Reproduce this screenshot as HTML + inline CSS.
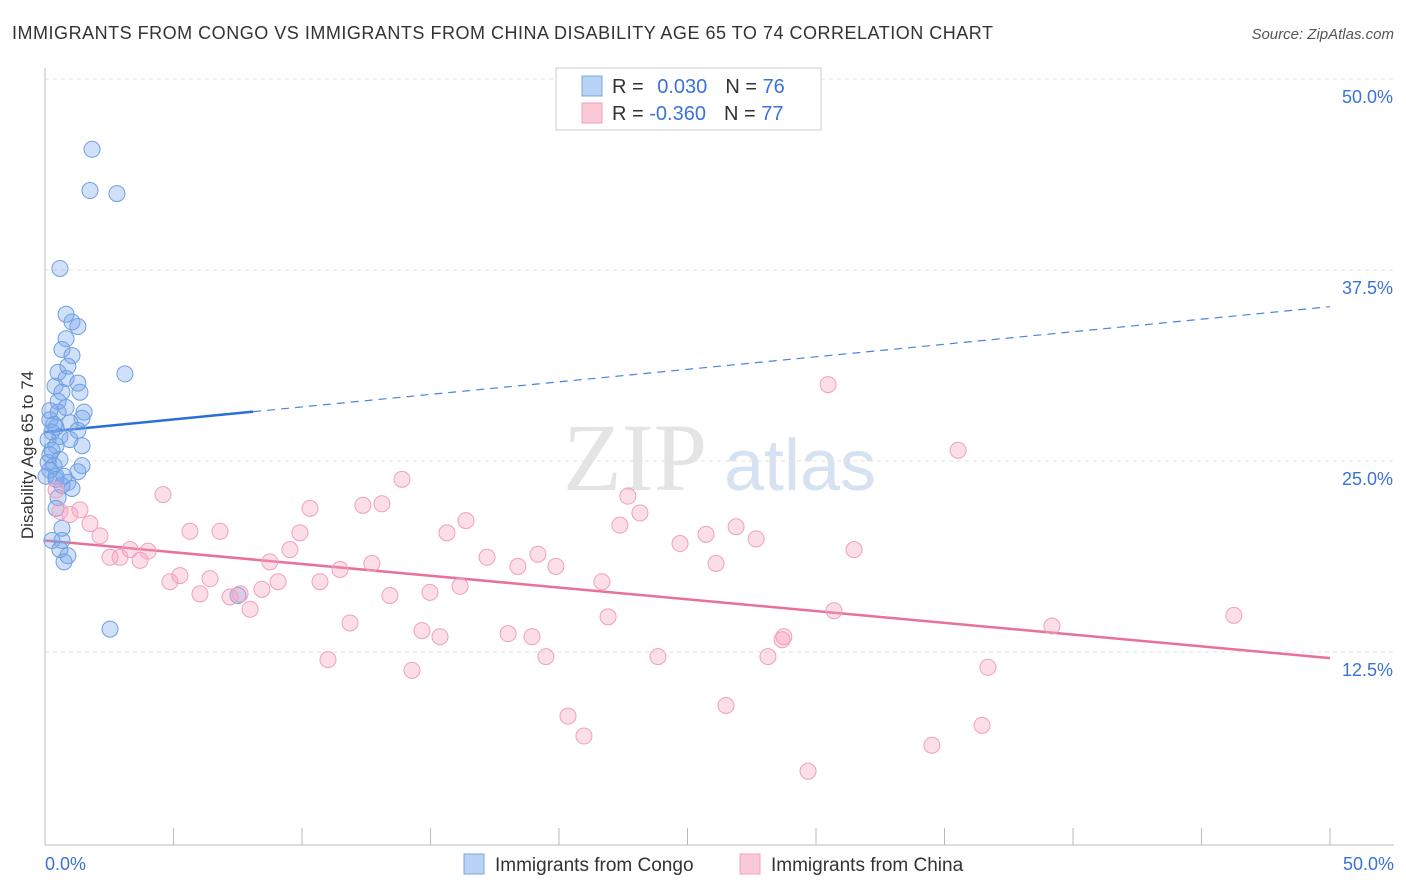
<!DOCTYPE html>
<html><head><meta charset="utf-8"><style>
body{margin:0;background:#fff;font-family:"Liberation Sans",sans-serif;}
svg{display:block}
</style></head><body>
<svg id="chart" width="1406" height="892">
<text x="12" y="39" font-size="18" fill="#333" textLength="981" lengthAdjust="spacing">IMMIGRANTS FROM CONGO VS IMMIGRANTS FROM CHINA DISABILITY AGE 65 TO 74 CORRELATION CHART</text>
<text x="1394" y="39" font-size="15" fill="#555" font-style="italic" text-anchor="end">Source: ZipAtlas.com</text>
<text x="0" y="0" transform="translate(33,455) rotate(-90)" font-size="17" fill="#333" text-anchor="middle">Disability Age 65 to 74</text>
<g><text x="635" y="490" font-size="96" fill="#e4e4e4" font-family="Liberation Serif" text-anchor="middle">ZIP</text><text x="800" y="490" font-size="72" fill="#d6e2f2" text-anchor="middle">atlas</text></g>
<g id="grid"></g><g id="axes"></g><g id="trend"></g><g id="pts"></g>
<g>
<rect x="556" y="68" width="265" height="62" fill="#fff" stroke="#ccc"/>
<rect x="582" y="76" width="20" height="20" fill="#b9d3f5" stroke="#7aa6e3"/>
<rect x="582" y="103" width="20" height="20" fill="#fac9d8" stroke="#f0a0bc"/>
<text x="612" y="93" font-size="20" fill="#333">R = <tspan fill="#3a72d8" dx="8">0.030</tspan><tspan dx="18">N = </tspan><tspan fill="#3a72d8">76</tspan></text>
<text x="612" y="120" font-size="20" fill="#333">R = <tspan fill="#3a72d8">-0.360</tspan><tspan dx="18">N = </tspan><tspan fill="#3a72d8">77</tspan></text>
</g>
<g>
<rect x="464" y="854" width="20" height="20" fill="#b9d3f5" stroke="#7aa6e3"/>
<text x="495" y="871" font-size="19" fill="#333">Immigrants from Congo</text>
<rect x="740" y="854" width="20" height="20" fill="#fac9d8" stroke="#f0a0bc"/>
<text x="771" y="871" font-size="19" fill="#333">Immigrants from China</text>
</g>
</svg>
<script>
const yTicks=[12.5,25,37.5,50];
const yTickLabels=["12.5%","25.0%","37.5%","50.0%"];
const xTickVals=[0,5,10,15,20,25,30,35,40,45,50];
const congoX=[1.83,1.75,2.80,0.58,0.82,1.05,1.28,0.82,0.66,1.05,0.89,0.51,3.11,0.82,1.28,0.39,1.36,0.66,0.82,1.52,0.51,1.44,0.97,0.43,0.27,1.28,0.58,0.12,0.97,1.44,0.43,0.19,0.58,0.12,0.35,1.44,0.19,1.28,0.43,0.89,0.66,1.05,0.51,0.43,0.66,0.27,0.66,0.89,0.58,0.74,7.51,2.53,0.19,0.27,0.04,0.51,0.43,0.74,0.19,0.35];
const congoY=[45.4,42.7,42.5,37.6,34.6,34.1,33.8,33.0,32.3,31.9,31.2,30.8,30.7,30.4,30.1,29.9,29.5,29.5,28.5,28.2,28.2,27.8,27.5,27.2,26.9,27.0,26.6,26.4,26.4,26.0,26.0,25.4,25.1,24.9,24.7,24.7,24.4,24.3,24.0,23.6,23.4,23.2,22.6,21.9,20.6,19.8,19.8,18.8,19.2,18.4,16.2,14.0,27.7,25.7,24.0,28.9,23.8,24.0,28.3,27.4];
const chinaX=[0.43,0.58,0.97,1.36,1.75,2.14,2.53,2.92,3.31,3.70,4.01,4.59,4.86,5.25,5.64,6.03,6.42,6.81,7.20,7.59,7.98,8.44,8.75,9.07,9.53,9.92,10.31,10.70,11.01,11.48,11.87,12.37,12.72,13.11,13.42,13.89,14.28,14.67,14.98,15.37,15.64,16.15,16.38,17.20,18.02,18.40,18.95,19.18,19.49,19.88,20.35,20.97,21.67,21.91,22.37,22.68,23.15,23.85,24.71,25.72,26.11,26.50,26.89,27.67,28.13,28.68,28.75,29.69,30.47,30.70,31.48,34.51,35.53,36.46,36.69,39.18,46.26];
const chinaY=[23.1,21.7,21.5,21.8,20.9,20.1,18.7,18.7,19.2,18.5,19.1,22.8,17.1,17.5,20.4,16.3,17.3,20.4,16.1,16.3,15.3,16.6,18.4,17.1,19.2,20.3,21.9,17.1,12.0,17.9,14.4,22.1,18.3,22.2,16.2,23.8,11.3,13.9,16.4,13.5,20.3,16.8,21.1,18.7,13.7,18.1,13.5,18.9,12.2,18.1,8.3,7.0,17.1,14.8,20.8,22.7,21.6,12.2,19.6,20.2,18.3,9.0,20.7,19.9,12.2,13.3,13.5,4.7,30.0,15.2,19.2,6.4,25.7,7.7,11.5,14.2,14.9];
const congoTrend=[26.9,35.1];
const chinaTrend=[19.8,12.1];
const NS="http://www.w3.org/2000/svg";
const sx=v=>45+v*25.7, sy=v=>843-v*15.28;
function mk(tag,attrs,parent){const e=document.createElementNS(NS,tag);for(const k in attrs)e.setAttribute(k,attrs[k]);document.getElementById(parent).appendChild(e);return e;}
yTicks.forEach((t,i)=>{
 const l=mk('line',{x1:45,x2:1394,y1:sy(t),y2:sy(t),stroke:'#e2e2e2','stroke-dasharray':'4,4'},'grid');
 
 
 const tx=mk('text',{x:1393,y:sy(t)+24,'font-size':18,fill:'#3a72d8','text-anchor':'end'},'grid');
 tx.textContent=yTickLabels[i];
 
 
});
const ya=mk('line',{x1:45,x2:45,y1:68,y2:845,stroke:'#bbb'},'axes');


const xa=mk('line',{x1:45,x2:1394,y1:845,y2:845,stroke:'#bbb'},'axes');


xTickVals.forEach(t=>{
 const l=mk('line',{x1:sx(t),x2:sx(t),y1:828,y2:845,stroke:'#bbb'},'axes');
 
 
});
[[0,'start','0.0%'],[50,'end','50.0%']].forEach(([v,a,s])=>{
 const t=mk('text',{x:v===0?45:1394,y:870,'font-size':18,fill:'#3a72d8','text-anchor':a},'axes');
 t.textContent=s;
 
 
});
for(let i=0;i<congoX.length;i++){
 const c=mk('circle',{cx:sx(congoX[i]),cy:sy(congoY[i]),r:8,fill:'rgba(120,165,235,0.35)',stroke:'#6f9fe2','stroke-width':1},'pts');
 
 
}
for(let i=0;i<chinaX.length;i++){
 const c=mk('circle',{cx:sx(chinaX[i]),cy:sy(chinaY[i]),r:8,fill:'rgba(245,160,190,0.35)',stroke:'#f0a0bc','stroke-width':1},'pts');
 
 
}
const cy0=congoTrend[0],cy1=congoTrend[1],xs=8.1;
const ys=cy0+(cy1-cy0)*xs/50;
const t1=mk('line',{x1:sx(0),y1:sy(cy0),x2:sx(xs),y2:sy(ys),stroke:'#2a6fd6','stroke-width':2.5},'trend');


const t2=mk('line',{x1:sx(xs),y1:sy(ys),x2:sx(50),y2:sy(cy1),stroke:'#4a84dc','stroke-width':1.2,'stroke-dasharray':'8,6'},'trend');


const t3=mk('line',{x1:sx(0),y1:sy(chinaTrend[0]),x2:sx(50),y2:sy(chinaTrend[1]),stroke:'#e8709a','stroke-width':2.5},'trend');


</script>
</body></html>
